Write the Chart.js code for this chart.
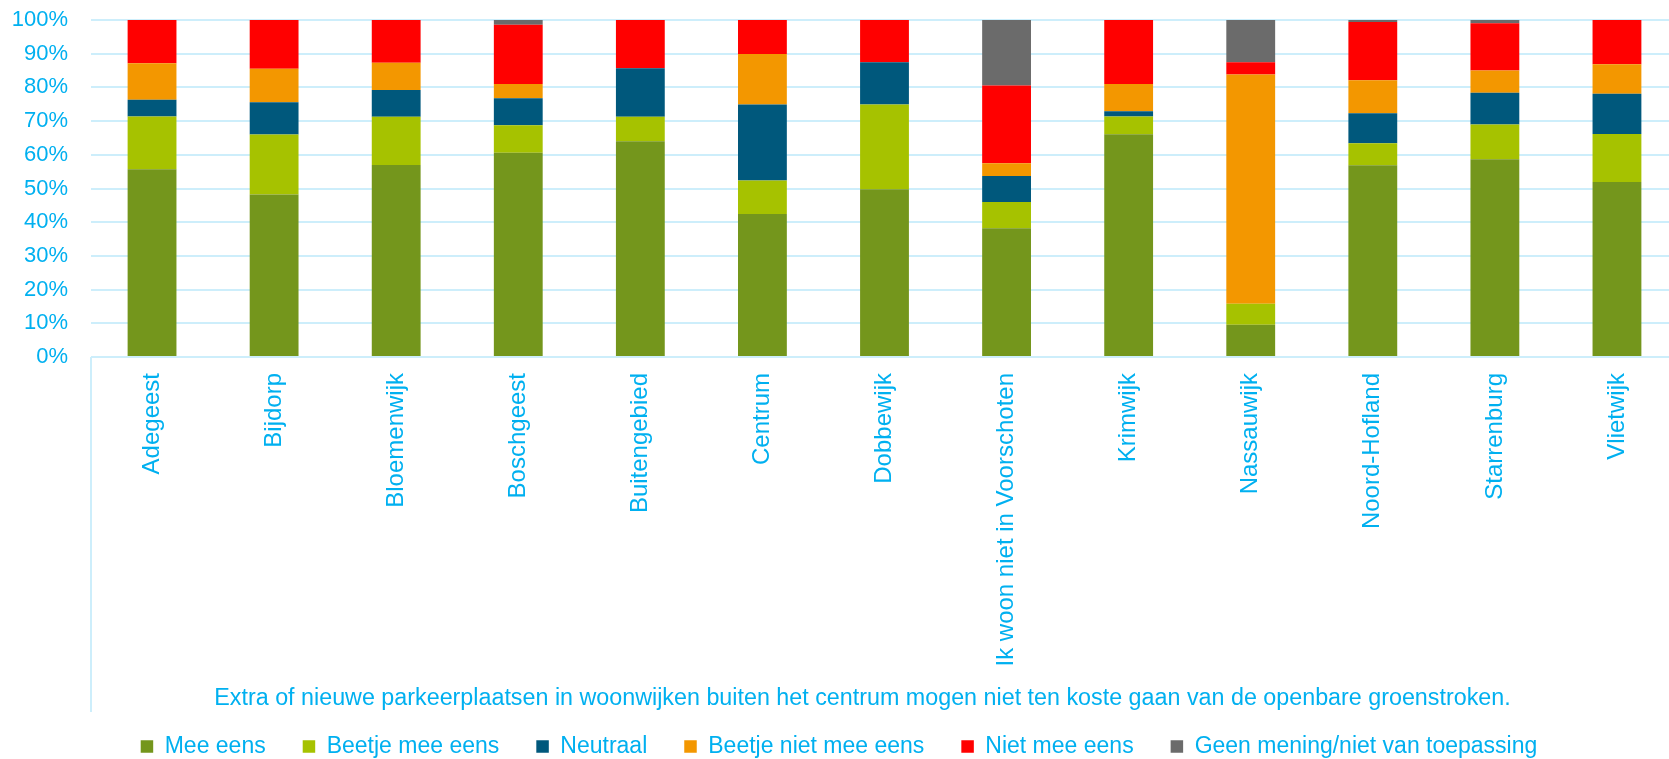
<!DOCTYPE html>
<html>
<head>
<meta charset="utf-8">
<script src="https://cdn.jsdelivr.net/npm/chart.js@4"></script>
<style>
  html, body { margin: 0; padding: 0; overflow: hidden; background: #fff; }
  #wrap { position: relative; width: 1680px; height: 768px; }
</style>
</head>
<body>
<div id="wrap"><canvas id="chart"></canvas></div>
<script>
const wijken = ["Adegeest", "Bijdorp", "Bloemenwijk", "Boschgeest", "Buitengebied", "Centrum", "Dobbewijk",
  "Ik woon niet in Voorschoten", "Krimwijk", "Nassauwijk", "Noord-Hofland", "Starrenburg", "Vlietwijk"];

const meeEens       = [55.7, 48.2, 57.0, 60.6, 64.0, 42.4, 49.8, 38.2, 66.1,  9.6, 56.9, 58.7, 51.9];
const beetjeMeeEens = [15.7, 17.8, 14.3,  8.2,  7.3, 10.0, 25.1,  7.8,  5.3,  6.2,  6.5, 10.3, 14.3];
const neutraal      = [ 4.9,  9.6,  7.9,  8.0, 14.4, 22.5, 12.6,  7.7,  1.5,  0.0,  8.9,  9.4, 11.9];
const beetjeNiet    = [10.9,  9.9,  8.1,  4.2,  0.0, 15.0,  0.0,  3.8,  8.1, 68.0,  9.8,  6.6,  8.8];
const nietMeeEens   = [12.8, 14.5, 12.7, 17.6, 14.3, 10.1, 12.5, 23.1, 19.0,  3.7, 17.3, 14.0, 13.1];
const geenMening    = [ 0.0,  0.0,  0.0,  1.4,  0.0,  0.0,  0.0, 19.4,  0.0, 12.5,  0.6,  1.0,  0.0];

const yTicks = [0, 10, 20, 30, 40, 50, 60, 70, 80, 90, 100];

const asTitle = "Extra of nieuwe parkeerplaatsen in woonwijken buiten het centrum mogen niet ten koste gaan van de openbare groenstroken.";

const textColor = "#00B0F0";
const gridColor = "#CDEEFB";

Chart.defaults.font.family = '"Liberation Sans", Arial, sans-serif';

// left border under the axis + the axis title (drawn a bit left of the axis centre, like the original)
const extraDecor = {
  id: "extraDecor",
  afterDraw(chart) {
    const { ctx, chartArea } = chart;
    const xs = chart.scales.x;
    ctx.save();
    ctx.strokeStyle = gridColor;
    ctx.lineWidth = 2;
    ctx.beginPath();
    ctx.moveTo(chartArea.left, chartArea.bottom);
    ctx.lineTo(chartArea.left, xs.bottom + 14);
    ctx.stroke();
    ctx.fillStyle = textColor;
    ctx.font = '23.3px "Liberation Sans", Arial, sans-serif';
    ctx.textAlign = "center";
    ctx.textBaseline = "alphabetic";
    ctx.fillText(asTitle, (chartArea.left + chartArea.right) / 2 - 22, xs.bottom + 7);
    ctx.restore();
  }
};

const ds = (label, data, color) => ({
  label, data, backgroundColor: color, borderWidth: 0,
  barPercentage: 0.4, categoryPercentage: 1.0
});

new Chart(document.getElementById("chart"), {
  type: "bar",
  data: {
    labels: wijken,
    datasets: [
      ds("Mee eens", meeEens, "#74961C"),
      ds("Beetje mee eens", beetjeMeeEens, "#A6C200"),
      ds("Neutraal", neutraal, "#00587C"),
      ds("Beetje niet mee eens", beetjeNiet, "#F39700"),
      ds("Niet mee eens", nietMeeEens, "#FF0000"),
      ds("Geen mening/niet van toepassing", geenMening, "#6B6B6B")
    ]
  },
  options: {
    responsive: true,
    maintainAspectRatio: false,
    animation: false,
    layout: { padding: { top: 20, right: 2, left: 0, bottom: 0 } },
    plugins: {
      tooltip: { enabled: false },
      legend: {
        position: "bottom",
        labels: {
          color: textColor,
          font: { size: 23 },
          boxWidth: 12.5,
          boxHeight: 12.5,
          padding: 37
        }
      }
    },
    scales: {
      x: {
        stacked: true,
        grid: { display: false },
        border: { display: false },
        ticks: {
          color: textColor,
          font: { size: 24 },
          minRotation: 90,
          maxRotation: 90,
          autoSkip: false,
          padding: 8
        },
        afterFit: (s) => { s.height = 341; }
      },
      y: {
        stacked: true,
        min: 0,
        max: 100,
        afterBuildTicks: (s) => { s.ticks = yTicks.map(v => ({ value: v })); },
        grid: { color: gridColor, lineWidth: 2, drawTicks: false },
        border: { display: false },
        ticks: {
          color: textColor,
          font: { size: 22 },
          padding: 23,
          callback: (v) => v + "%"
        },
        afterFit: (s) => { s.width = 91; s.paddingTop = 0; s.paddingBottom = 0; }
      }
    }
  },
  plugins: [extraDecor]
});
</script>
</body>
</html>
